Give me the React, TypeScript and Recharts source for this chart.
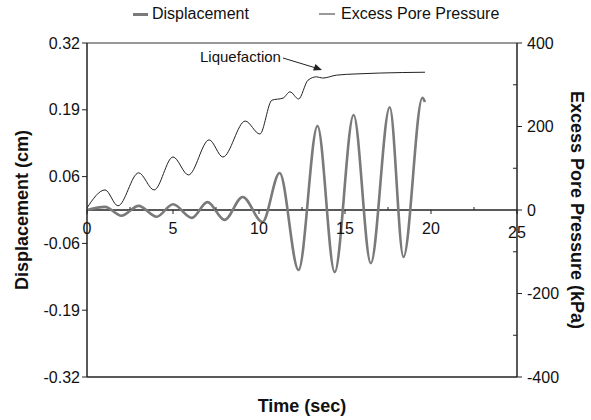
import { LineChart, Line, XAxis, YAxis, ReferenceLine } from 'recharts'

// displacement record (cm), left axis
const dispTime = [0, 1.05, 2.0, 3.0, 4.05, 5.0, 6.1, 7.0, 8.0, 9.05, 10.2, 11.2, 12.3, 13.4, 14.4, 15.5, 16.5, 17.6, 18.4, 19.5, 19.65]
const dispValues = [0, 0.006, -0.011, 0.008, -0.013, 0.011, -0.015, 0.015, -0.019, 0.025, -0.023, 0.071, -0.115, 0.161, -0.119, 0.182, -0.102, 0.197, -0.09, 0.215, 0.207]

// excess pore pressure (kPa), right axis
const ppTime = [0, 1.05, 1.8, 3.0, 3.9, 5.0, 5.9, 7.1, 7.9, 9.2, 10.05, 10.75, 11.4, 11.8, 12.3, 12.85, 13.35, 13.7, 14.5, 15.7, 17.0, 19.65]
const ppValues = [5, 48, 10, 89, 48, 127, 84, 168, 127, 213, 182, 263, 268, 283, 266, 311, 319, 316, 323, 326, 328, 330]

const xTicks = [0, 2.5, 5, 7.5, 10, 12.5, 15, 17.5, 20, 22.5, 25]
const xTickLabels = ['0', '', '5', '', '10', '', '15', '', '20', '', '25']
const leftTicks = [-0.32, -0.192, -0.064, 0.064, 0.192, 0.32]
const leftTickLabels = ['-0.32', '-0.19', '-0.06', '0.06', '0.19', '0.32']
const rightTicks = [-400, -300, -200, -100, 0, 100, 200, 300, 400]
const rightTickLabels = ['-400', '', '-200', '', '0', '', '200', '', '400']

const dispData = dispTime.map((t, i) => ({ t, v: dispValues[i] }))
const ppData = ppTime.map((t, i) => ({ t, v: ppValues[i] }))

const W = 591
const H = 420
const PLOT_TOP = 43
const PLOT_BOTTOM = 377
const ZERO_Y = (PLOT_TOP + PLOT_BOTTOM) / 2
const FONT = '"Liberation Sans", Arial, sans-serif'

const DISP_COLOR = '#7a7a7a'
const PP_COLOR = '#222'

const XTick = ({ x, y, payload }: any) => {
  const i = xTicks.indexOf(payload.value)
  const label = xTickLabels[i]
  const zy = y - (PLOT_BOTTOM - ZERO_Y)
  return (
    <g>
      {label ? (
        <line x1={x} y1={zy} x2={x} y2={zy + 4} stroke="#222" />
      ) : (
        <line x1={x} y1={zy} x2={x} y2={zy - 3} stroke="#222" />
      )}
      {label && (
        <text x={x} y={zy + (payload.value === 25 ? 28 : 24)} textAnchor="middle" fontSize={16} fill="#111">
          {label}
        </text>
      )}
    </g>
  )
}

const RightTick = ({ x, y, payload }: any) => {
  const i = rightTicks.indexOf(payload.value)
  const label = rightTickLabels[i]
  if (!label) return <line x1={x} y1={y} x2={x - 4} y2={y} stroke="#222" />
  return (
    <g>
      <line x1={x} y1={y} x2={x + 5} y2={y} stroke="#222" />
      <text x={x + 10} y={y} dy="0.355em" textAnchor="start" fontSize={16} fill="#111">
        {label}
      </text>
    </g>
  )
}

export default function App() {
  return (
    <div style={{ position: 'absolute', left: 0, top: 0, width: W, height: H, background: '#fff', fontFamily: FONT }}>
      {/* legend */}
      <div style={{ position: 'absolute', top: 5, left: 0, width: W, height: 20, fontSize: 16, color: '#111' }}>
        <span style={{ position: 'absolute', left: 133, top: 8, width: 15, height: 3, background: DISP_COLOR }} />
        <span style={{ position: 'absolute', left: 152, top: 0, lineHeight: '18px' }}>Displacement</span>
        <span style={{ position: 'absolute', left: 319, top: 8, width: 16, height: 2, background: '#999' }} />
        <span style={{ position: 'absolute', left: 341, top: 0, lineHeight: '18px' }}>Excess Pore Pressure</span>
      </div>

      <LineChart width={W} height={H} margin={{ top: PLOT_TOP, right: 4, bottom: 3, left: 12 }}>
        <XAxis
          dataKey="t"
          type="number"
          domain={[0, 25]}
          ticks={xTicks}
          tick={<XTick />}
          tickLine={false}
          tickSize={0}
          tickMargin={0}
          interval={0}
          axisLine={{ stroke: '#222', strokeWidth: 1.5 }}
          height={40}
          allowDataOverflow
          label={{ value: 'Time (sec)', position: 'insideBottom', offset: 5, fontSize: 18, fontWeight: 'bold', fill: '#111' }}
        />
        <YAxis
          yAxisId="disp"
          domain={[-0.32, 0.32]}
          ticks={leftTicks}
          tickFormatter={(v: number) => leftTickLabels[leftTicks.indexOf(v)]}
          tick={{ fontSize: 16, fill: '#111' }}
          tickSize={5}
          tickMargin={2}
          tickLine={{ stroke: '#222' }}
          axisLine={{ stroke: '#222', strokeWidth: 1.5 }}
          interval={0}
          width={75}
          allowDataOverflow
          label={{ value: 'Displacement (cm)', angle: -90, position: 'insideLeft', offset: 10, fontSize: 18, fontWeight: 'bold', fill: '#111', style: { textAnchor: 'middle' } }}
        />
        <YAxis
          yAxisId="pp"
          orientation="right"
          domain={[-400, 400]}
          ticks={rightTicks}
          tick={<RightTick />}
          tickLine={false}
          tickSize={0}
          tickMargin={0}
          interval={0}
          axisLine={{ stroke: '#222', strokeWidth: 1.5 }}
          width={70}
          allowDataOverflow
          label={{ value: 'Excess Pore Pressure (kPa)', angle: 90, position: 'insideRight', offset: 10, fontSize: 18, fontWeight: 'bold', fill: '#111', style: { textAnchor: 'middle' } }}
        />
        <ReferenceLine yAxisId="disp" y={0.32} stroke="#333" strokeWidth={1.2} />
        <ReferenceLine yAxisId="disp" y={0} stroke="#222" strokeWidth={1.5} />
        <Line
          yAxisId="disp"
          data={dispData}
          dataKey="v"
          type="monotone"
          stroke={DISP_COLOR}
          strokeWidth={2.6}
          dot={false}
          isAnimationActive={false}
        />
        <Line
          yAxisId="pp"
          data={ppData}
          dataKey="v"
          type="monotone"
          stroke={PP_COLOR}
          strokeWidth={1}
          dot={false}
          isAnimationActive={false}
        />
      </LineChart>

      {/* annotation */}
      <svg width={W} height={H} style={{ position: 'absolute', left: 0, top: 0, pointerEvents: 'none' }}>
        <text x={200} y={62} fontSize={15} fill="#111" fontFamily={FONT}>
          Liquefaction
        </text>
        <line x1={283} y1={58} x2={316} y2={68} stroke="#222" strokeWidth={1} />
        <polygon points="322,70 313,70.5 315.5,64" fill="#222" />
      </svg>
    </div>
  )
}
